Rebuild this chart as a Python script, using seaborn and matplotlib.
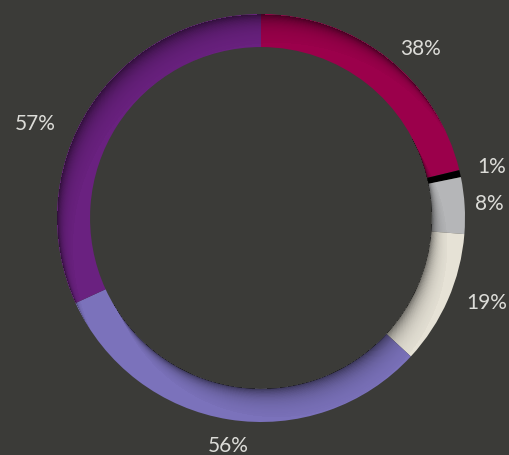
import numpy as np
import pandas as pd
import matplotlib.pyplot as plt
import seaborn as sns

# values shown on the ring (slices are proportional to them)
labels = ['38%', '1%', '8%', '19%', '56%', '57%']
values = [38, 1, 8, 19, 56, 57]
colors = ['#9b004b', '#000000', '#b5b6b8', '#e6e2d6', '#7b72bb', '#6a2180']

bg = '#3b3b38'
sns.set_theme(style='white')
plt.rcParams['font.family'] = ['Lato', 'DejaVu Sans']

fig = plt.figure(figsize=(5.1, 4.55), dpi=100, facecolor=bg)
ax = fig.add_axes([0, 0, 1, 1])
ax.set_facecolor(bg)

r_out, r_in = 1.0, 0.838
wedges, _ = ax.pie(values, colors=colors, startangle=90, counterclock=False,
                   radius=r_out, wedgeprops=dict(width=r_out - r_in, edgecolor='none'))

# ring centre at pixel (261, 218), radius 204 px
px = 204.0
ax.set_xlim(-261 / px, (510 - 261) / px)
ax.set_ylim(-(455 - 218) / px, 218 / px)
ax.set_aspect('equal')
ax.axis('off')

# soft inner shadow on the upper-left edge of the band
xs = np.linspace(-261 / px, (510 - 261) / px, 510)
ys = np.linspace(218 / px, -(455 - 218) / px, 455)
X, Y = np.meshgrid(xs, ys)
u = np.array([-0.55, 1.0])
u = u / np.linalg.norm(u)
ts = np.linspace(0, 0.16, 50)
Xs = X[None] + ts[:, None, None] * u[0]
Ys = Y[None] + ts[:, None, None] * u[1]
Rs = np.hypot(Xs, Ys)
outside = (Rs < r_in) | (Rs > r_out)
first = np.where(outside.any(axis=0), ts[outside.argmax(axis=0)], 1.0)
R = np.hypot(X, Y)
ring = (R >= r_in) & (R <= r_out)
alpha = np.where(ring, 0.55 * np.exp(-first / 0.05), 0.0)
shade = np.zeros((455, 510, 4))
shade[..., 3] = alpha
ax.imshow(shade, extent=(xs[0], xs[-1], ys[-1], ys[0]), zorder=3, interpolation='bilinear')

# labels around the ring
ang_nudge = [-5, 0, 0, 3, 1, 10]
rad = [1.14, 1.16, 1.12, 1.18, 1.13, 1.20]
for w, lab, dn, rr in zip(wedges, labels, ang_nudge, rad):
    mid = np.deg2rad((w.theta1 + w.theta2) / 2 + dn)
    ax.text(rr * np.cos(mid), rr * np.sin(mid), lab, ha='center', va='center',
            color='#dcdcd8', fontsize=15, fontweight='normal', zorder=4)

fig.savefig('out.png', dpi=100, facecolor=bg)
